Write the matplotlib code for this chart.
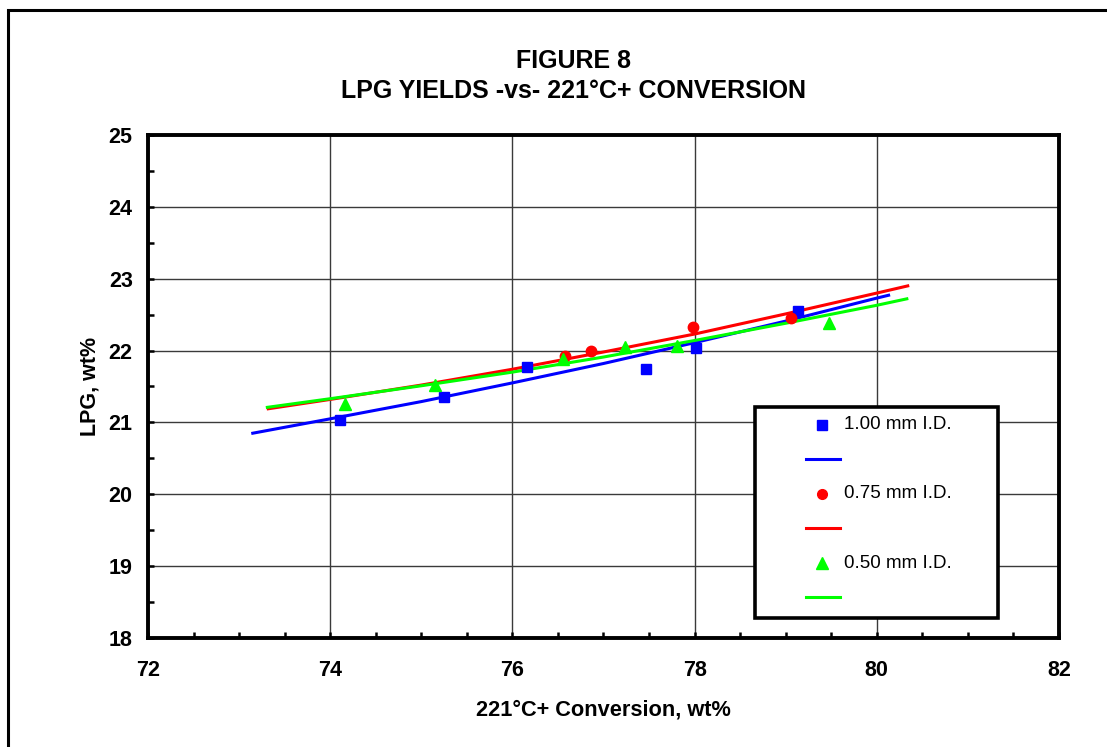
import matplotlib.pyplot as plt
import matplotlib.patches as patches
from matplotlib.ticker import MultipleLocator
import numpy as np

plt.rcParams['font.family'] = ['Liberation Sans', 'DejaVu Sans']

# measured points
x_100 = [74.11, 75.25, 76.16, 77.47, 78.02, 79.14]
y_100 = [21.03, 21.35, 21.77, 21.74, 22.04, 22.55]
x_075 = [76.58, 76.86, 77.98, 79.06]
y_075 = [21.92, 21.99, 22.33, 22.45]
x_050 = [74.16, 75.15, 76.56, 77.24, 77.81, 79.48]
y_050 = [21.26, 21.52, 21.88, 22.05, 22.06, 22.38]

# fitted curves
fx_100 = [73.15, 74, 75, 76, 77, 78, 79, 80, 80.13]
fy_100 = [20.85, 21.05, 21.29, 21.55, 21.82, 22.11, 22.41, 22.73, 22.77]
fx_075 = [73.32, 74, 75, 76, 77, 78, 79, 80, 80.34]
fy_075 = [21.19, 21.32, 21.52, 21.74, 21.98, 22.23, 22.51, 22.80, 22.90]
fx_050 = [73.31, 74, 75, 76, 77, 78, 79, 80, 80.33]
fy_050 = [21.21, 21.33, 21.51, 21.70, 21.91, 22.14, 22.38, 22.63, 22.72]

labels = ['1.00 mm I.D.', '0.75 mm I.D.', '0.50 mm I.D.']
colors = ['#0000ff', '#ff0000', '#00ff00']
markers = ['s', 'o', '^']

fig = plt.figure(figsize=(11.07, 7.47), dpi=100)
ax = fig.add_axes([0.1337, 0.1459, 0.8229, 0.6734])

# outer frame of the page
fig.patches.append(patches.Rectangle((8 / 1107, -0.05), 1.2, 1 - 10 / 747 + 0.05,
                                     transform=fig.transFigure, fill=False,
                                     edgecolor='black', linewidth=2.2))

ax.plot(fx_100, fy_100, color=colors[0], lw=2.2, zorder=3)
ax.plot(fx_075, fy_075, color=colors[1], lw=2.2, zorder=3)
ax.plot(fx_050, fy_050, color=colors[2], lw=2.2, zorder=3)
ax.plot(x_100, y_100, 's', color=colors[0], ms=7.5, zorder=4)
ax.plot(x_075, y_075, 'o', color=colors[1], ms=7.5, zorder=4)
ax.plot(x_050, y_050, '^', color=colors[2], ms=8.5, zorder=4)

ax.set_xlim(72, 82)
ax.set_ylim(18, 25)
ax.xaxis.set_major_locator(MultipleLocator(2))
ax.xaxis.set_minor_locator(MultipleLocator(0.5))
ax.yaxis.set_major_locator(MultipleLocator(1))
ax.yaxis.set_minor_locator(MultipleLocator(0.5))
ax.grid(True, which='major', color='#3a3a3a', lw=1.0)
ax.set_axisbelow(True)
for s in ax.spines.values():
    s.set_linewidth(2.8)
ax.tick_params(which='both', direction='in', width=1.8)
ax.tick_params(which='major', length=4)
ax.tick_params(which='minor', length=4)
ax.tick_params(axis='x', which='major', pad=16, labelsize=15.5)
ax.tick_params(axis='y', which='major', pad=11, labelsize=15.5)
for t in ax.get_xticklabels() + ax.get_yticklabels():
    t.set_fontweight('bold')

ax.set_xlabel('221°C+ Conversion, wt%', fontsize=15.7, fontweight='bold', labelpad=13)
ax.set_ylabel('LPG, wt%', fontsize=15.5, fontweight='bold', labelpad=6)

fig.text(0.5185, 0.898, 'FIGURE 8\nLPG YIELDS -vs- 221°C+ CONVERSION',
         ha='center', va='center', fontsize=18, fontweight='bold', linespacing=1.3)

# legend box
ax.add_patch(patches.Rectangle((0.666, 0.0398), 0.267, 0.4192, transform=ax.transAxes,
                               facecolor='white', edgecolor='black', lw=2.6, zorder=6))
rows = [0.4235, 0.3559, 0.2863, 0.2187, 0.1491, 0.0815]
for i in range(3):
    ym, yl = rows[2 * i], rows[2 * i + 1]
    ax.plot([0.740], [ym], markers[i], color=colors[i], ms=7 if i < 2 else 8,
            transform=ax.transAxes, zorder=7, clip_on=False)
    ax.plot([0.7223, 0.7596], [yl, yl], color=colors[i], lw=2.2,
            transform=ax.transAxes, zorder=7)
    ax.text(0.764, ym, labels[i], transform=ax.transAxes, fontsize=13.5,
            va='center', ha='left', zorder=7)

fig.savefig('out.png', dpi=100)
